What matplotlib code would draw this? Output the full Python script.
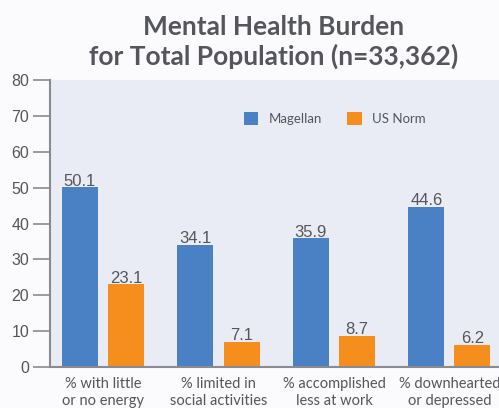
import numpy as np
import matplotlib.pyplot as plt

# data
categories = ['% with little\nor no energy', '% limited in\nsocial activities',
              '% accomplished\nless at work', '% downhearted\nor depressed']
magellan = [50.1, 34.1, 35.9, 44.6]
us_norm = [23.1, 7.1, 8.7, 6.2]
series_names = ['Magellan', 'US Norm']

blue = '#4a81c4'
orange = '#f68e1e'
text_col = '#55565b'

plt.rcParams['font.family'] = ['Lato', 'DejaVu Sans']

fig = plt.figure(figsize=(4.99, 4.08), dpi=100, facecolor='#fbfbfd')
ax = fig.add_axes([50 / 499, 1 - 367 / 408, 449 / 499, 287 / 408])
ax.set_facecolor('#e9ecf5')

x = np.arange(len(categories))
w = 0.312
b1 = ax.bar(x - 0.2, magellan, w, color=blue, label=series_names[0])
b2 = ax.bar(x + 0.2, us_norm, w, color=orange, label=series_names[1])

for bars, vals in [(b1, magellan), (b2, us_norm)]:
    for r, v in zip(bars, vals):
        ax.text(r.get_x() + r.get_width() / 2, v - 0.4, f'{v:.1f}', ha='center', va='bottom',
                fontsize=12, color=text_col, family='Liberation Sans')

ax.set_xlim(-0.46, 3.43)
ax.set_ylim(0, 80)
ax.set_yticks(range(0, 81, 10))
ax.set_xticks(x)
ax.set_xticklabels(categories, fontsize=10.5, color=text_col, linespacing=1.3)
ax.tick_params(axis='y', length=12, width=1.2, color='#8a8b90', labelsize=11.5,
               labelcolor=text_col, pad=3)
ax.tick_params(axis='x', length=0, pad=7)
for lbl in ax.get_yticklabels():
    lbl.set_family('Liberation Sans')

for s in ['top', 'right']:
    ax.spines[s].set_visible(False)
ax.spines['left'].set_color('#8a8b90')
ax.spines['left'].set_linewidth(1.5)
ax.spines['bottom'].set_color('#8a8b90')
ax.spines['bottom'].set_linewidth(1.5)

leg = ax.legend(loc='upper left', bbox_to_anchor=(0.405, 0.93), ncol=2, frameon=False,
                fontsize=9.5, handlelength=1.1, handleheight=1.1, columnspacing=1.9,
                handletextpad=0.8)
for t in leg.get_texts():
    t.set_color(text_col)

fig.text(274 / 499, 1 - 42 / 408, 'Mental Health Burden\nfor Total Population (n=33,362)',
         ha='center', va='center', fontsize=19, fontweight='bold', color=text_col,
         linespacing=1.2)

fig.savefig('out.png', dpi=100, facecolor=fig.get_facecolor())
